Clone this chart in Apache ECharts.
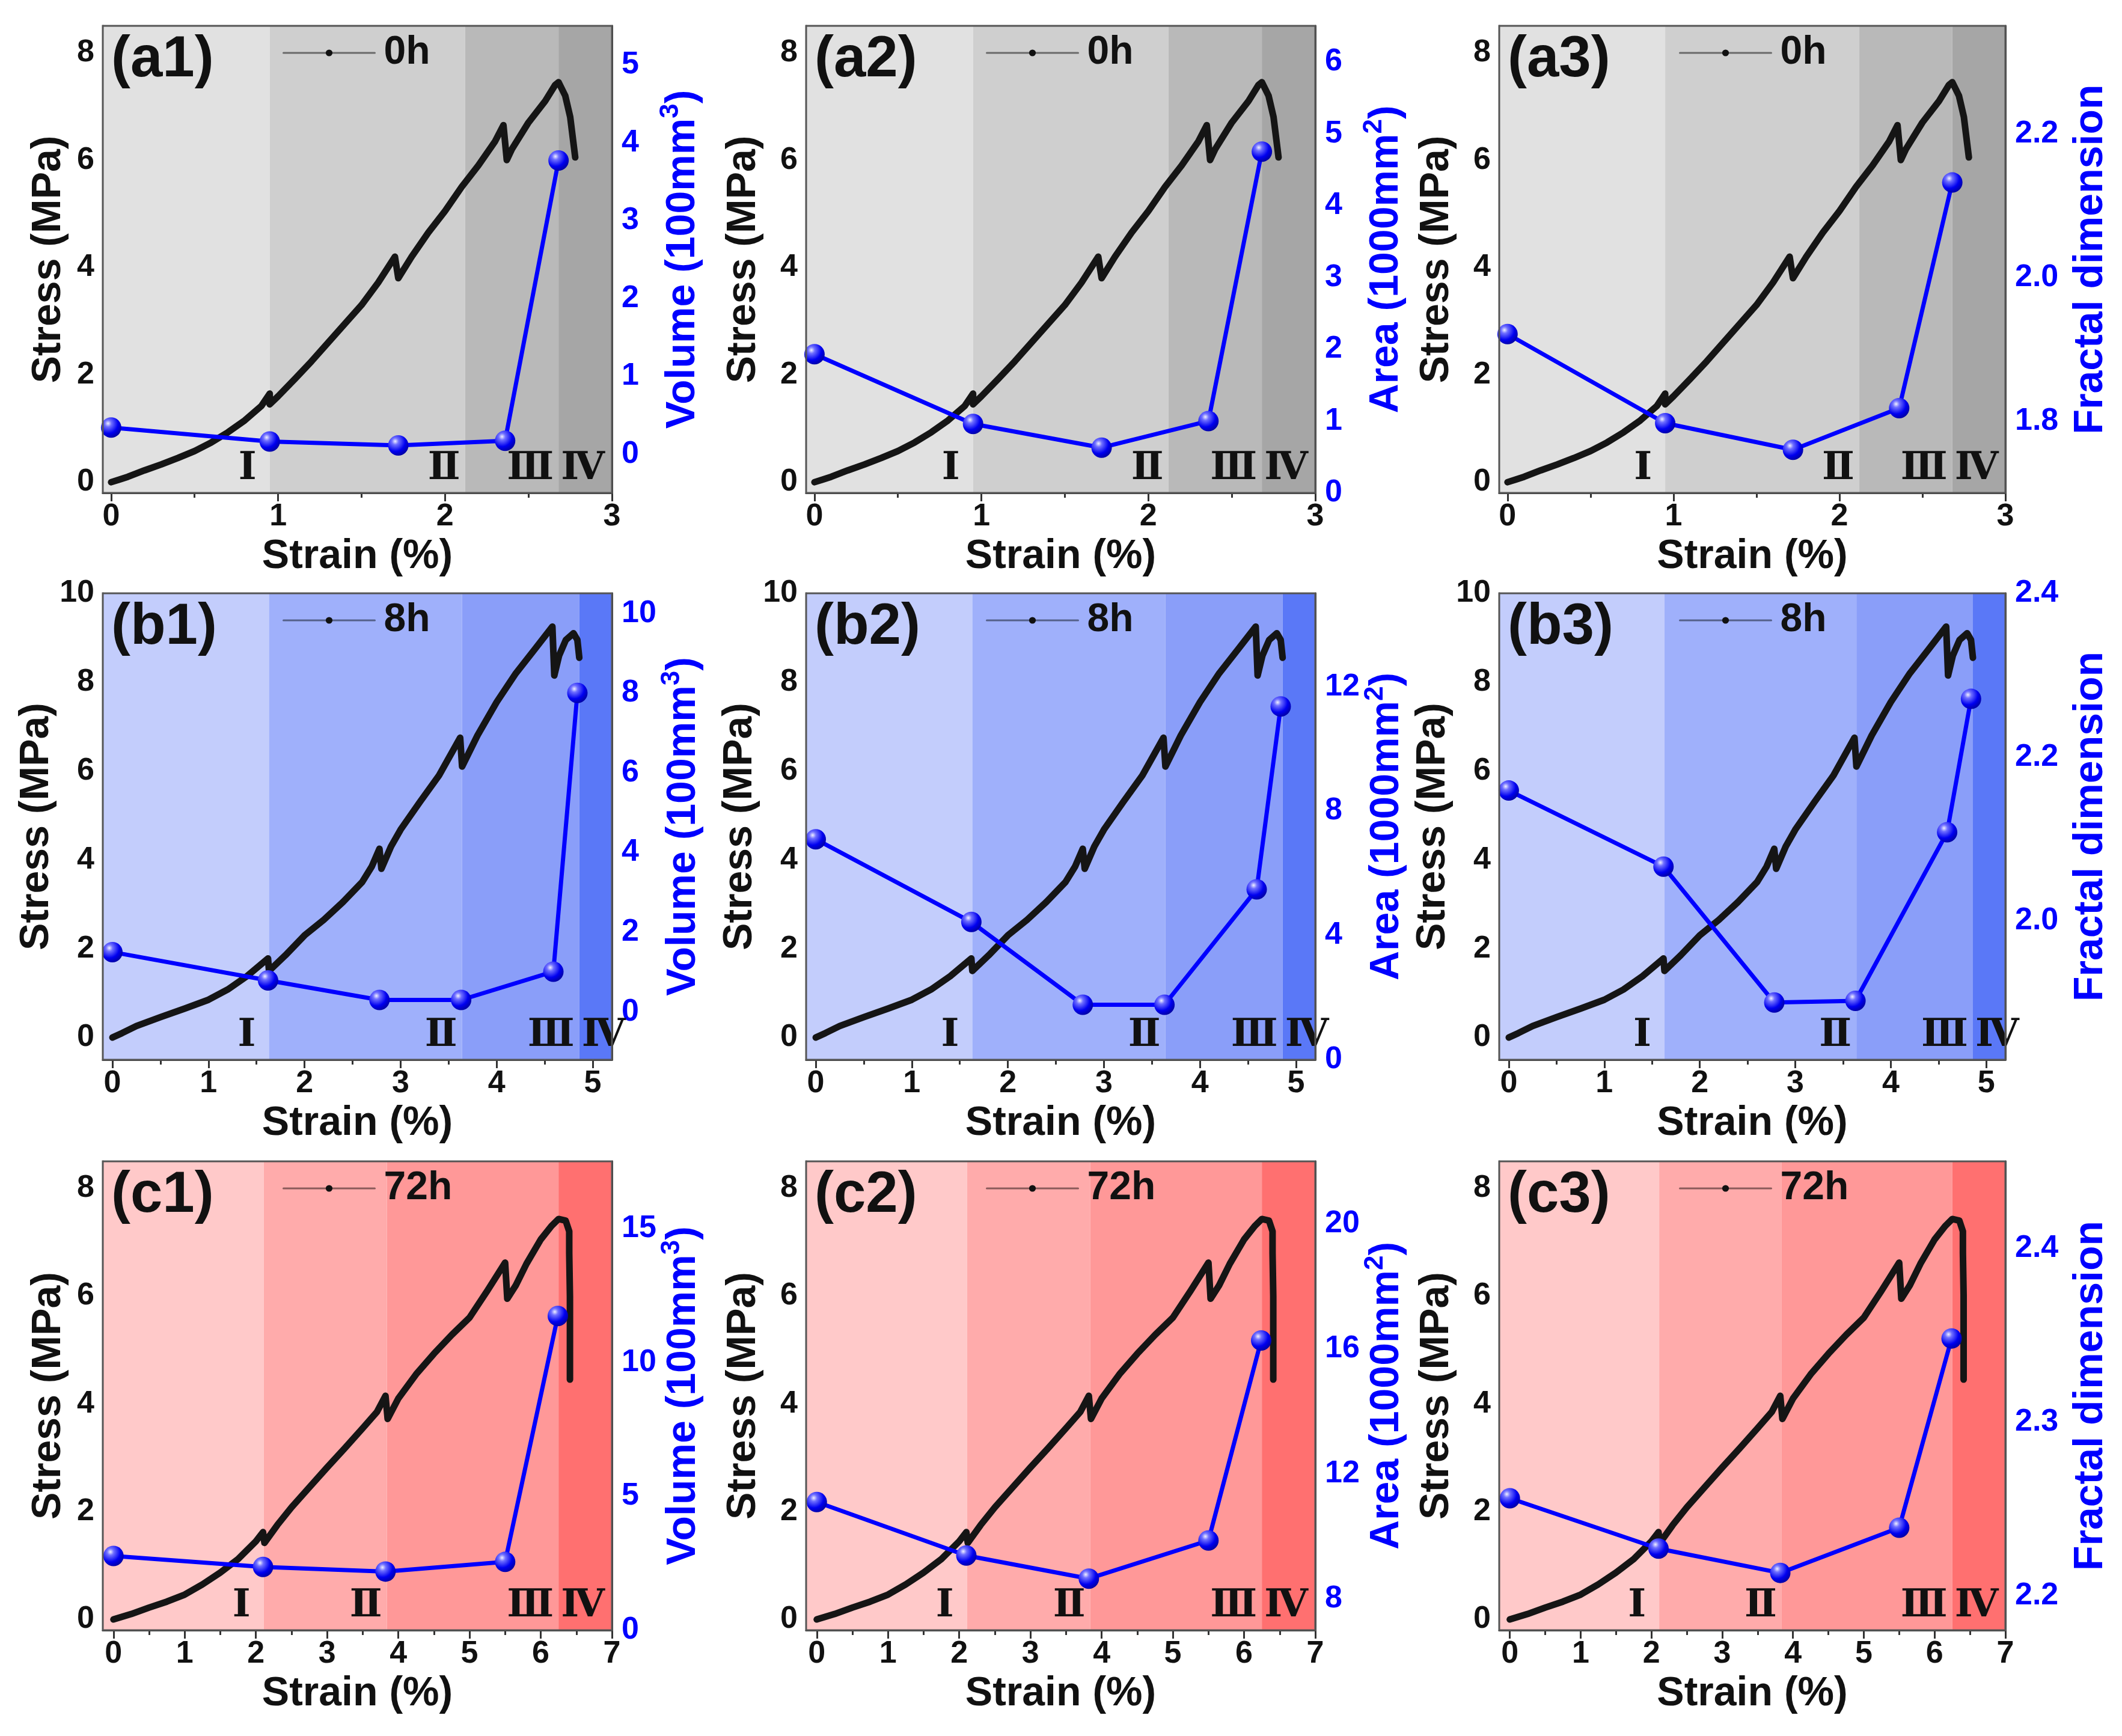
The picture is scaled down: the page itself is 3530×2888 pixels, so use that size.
<!DOCTYPE html>
<html>
<head>
<meta charset="utf-8">
<script src="https://cdn.jsdelivr.net/npm/echarts@6/dist/echarts.min.js"></script>
<style>
  html, body { margin: 0; padding: 0; background: #fff; }
  #main { width: 3530px; height: 2888px; }
</style>
</head>
<body>
<div id="main"></div>
<script>
// stress-strain curves
const strain0h = [0, 0.05, 0.1, 0.2, 0.3, 0.4, 0.5, 0.6, 0.7, 0.8, 0.9, 0.95, 0.95, 1.0, 1.1, 1.2, 1.3, 1.4, 1.5, 1.6, 1.7, 1.72, 1.8, 1.9, 2.0, 2.1, 2.2, 2.3, 2.35, 2.37, 2.4, 2.5, 2.6, 2.66, 2.68, 2.72, 2.75, 2.78];
const stress0h = [0, 0.05, 0.1, 0.22, 0.33, 0.45, 0.58, 0.74, 0.93, 1.15, 1.42, 1.65, 1.45, 1.6, 1.92, 2.25, 2.6, 2.95, 3.3, 3.72, 4.2, 3.8, 4.2, 4.65, 5.05, 5.5, 5.9, 6.35, 6.65, 6.0, 6.2, 6.7, 7.1, 7.4, 7.45, 7.2, 6.8, 6.05];

const strain8h = [0, 0.1, 0.25, 0.5, 0.75, 1.0, 1.2, 1.4, 1.62, 1.63, 1.8, 2.0, 2.2, 2.4, 2.6, 2.7, 2.78, 2.8, 2.9, 3.0, 3.2, 3.4, 3.62, 3.64, 3.8, 4.0, 4.2, 4.4, 4.58, 4.6, 4.65, 4.72, 4.8, 4.84, 4.86];
const stress8h = [0, 0.1, 0.26, 0.46, 0.65, 0.85, 1.08, 1.38, 1.78, 1.5, 1.85, 2.3, 2.65, 3.05, 3.5, 3.85, 4.25, 3.8, 4.3, 4.68, 5.3, 5.9, 6.75, 6.1, 6.8, 7.55, 8.2, 8.75, 9.25, 8.15, 8.6, 8.95, 9.1, 8.95, 8.55];

const strain72h = [0, 0.25, 0.5, 0.75, 1.0, 1.25, 1.5, 1.75, 2.0, 2.1, 2.12, 2.3, 2.5, 2.75, 3.0, 3.25, 3.5, 3.7, 3.82, 3.85, 4.0, 4.25, 4.5, 4.75, 5.0, 5.25, 5.5, 5.53, 5.65, 5.8, 6.0, 6.15, 6.25, 6.35, 6.4, 6.4, 6.41, 6.41, 6.41];
const stress72h = [0, 0.1, 0.22, 0.33, 0.46, 0.65, 0.87, 1.12, 1.45, 1.62, 1.42, 1.75, 2.08, 2.45, 2.82, 3.18, 3.55, 3.85, 4.15, 3.72, 4.1, 4.55, 4.93, 5.28, 5.6, 6.1, 6.62, 5.95, 6.2, 6.6, 7.05, 7.3, 7.43, 7.4, 7.2, 6.8, 6.0, 5.2, 4.45];

// crack measurements at the scan points
const scanStrain0h = [0, 0.95, 1.72, 2.36, 2.68];
const volume0h = [0.34, 0.16, 0.11, 0.17, 3.77];
const area0h = [1.93, 0.96, 0.63, 1.0, 4.75];
const fractal0h = [1.921, 1.797, 1.76, 1.818, 2.132];

const scanStrain8h = [0, 1.62, 2.78, 3.63, 4.59, 4.84];
const volume8h = [1.5, 0.79, 0.3, 0.3, 1.01, 8.0];
const area8h = [7.09, 4.43, 1.77, 1.77, 5.48, 11.36];
const fractal8h = [2.159, 2.066, 1.9, 1.902, 2.108, 2.271];

const scanStrain72h = [0, 2.1, 3.82, 5.5, 6.24];
const volume72h = [2.77, 2.36, 2.19, 2.55, 11.73];
const area72h = [11.1, 9.39, 8.65, 9.87, 16.27];
const fractal72h = [2.256, 2.227, 2.213, 2.239, 2.348];

// stage boundaries (strain %)
const stages0h = [0.95, 2.12, 2.68];
const stages8h = [1.63, 3.64, 4.86];
const stages72h = [2.11, 3.84, 6.25];
const stageNames = ['Ⅰ', 'Ⅱ', 'Ⅲ', 'Ⅳ'];

// tick labels
const strainTicks0h = [0, 1, 2, 3];
const strainTicks8h = [0, 1, 2, 3, 4, 5];
const strainTicks72h = [0, 1, 2, 3, 4, 5, 6, 7];
const stressTicks0h = [0, 2, 4, 6, 8];
const stressTicks8h = [0, 2, 4, 6, 8, 10];
const stressTicks72h = [0, 2, 4, 6, 8];
const volumeTicks0h = [0, 1, 2, 3, 4, 5];
const areaTicks0h = [0, 1, 2, 3, 4, 5, 6];
const fractalTicks0h = [1.8, 2.0, 2.2];
const volumeTicks8h = [0, 2, 4, 6, 8, 10];
const areaTicks8h = [0, 4, 8, 12];
const fractalTicks8h = [2.0, 2.2, 2.4];
const volumeTicks72h = [0, 5, 10, 15];
const areaTicks72h = [8, 12, 16, 20];
const fractalTicks72h = [2.2, 2.3, 2.4];

const panelTags = [['(a1)', '(a2)', '(a3)'], ['(b1)', '(b2)', '(b3)'], ['(c1)', '(c2)', '(c3)']];
// right axis titles, superscripts as rich text
const rightTitles = ['{t|Volume (100mm}{s|3}{t|)}', '{t|Area (1000mm}{s|2}{t|)}', '{t|Fractal dimension}'];

const rows = [
  {
    name: '0h', sx: strain0h, sy: stress0h, cx: scanStrain0h, right: [volume0h, area0h, fractal0h],
    stages: stages0h, xRange: [-0.05, 3], xTicks: strainTicks0h, yRange: [-0.2, 8.5], yTicks: stressTicks0h,
    rRanges: [[-0.5, 5.5], [0, 6.5], [1.7, 2.35]], rTicks: [volumeTicks0h, areaTicks0h, fractalTicks0h],
    colors: ['#e1e1e1', '#cfcfcf', '#b9b9b9', '#a6a6a6'], legendLine: '#6a6a6a'
  },
  {
    name: '8h', sx: strain8h, sy: stress8h, cx: scanStrain8h, right: [volume8h, area8h, fractal8h],
    stages: stages8h, xRange: [-0.1, 5.2], xTicks: strainTicks8h, yRange: [-0.5, 10], yTicks: stressTicks8h,
    rRanges: [[-1.2, 10.5], [0, 15], [1.83, 2.4]], rTicks: [volumeTicks8h, areaTicks8h, fractalTicks8h],
    colors: ['#c3cdfc', '#9fb0fb', '#8a9ef9', '#5a78f7'], legendLine: '#55608a'
  },
  {
    name: '72h', sx: strain72h, sy: stress72h, cx: scanStrain72h, right: [volume72h, area72h, fractal72h],
    stages: stages72h, xRange: [-0.15, 7], xTicks: strainTicks72h, yRange: [-0.2, 8.5], yTicks: stressTicks72h,
    rRanges: [[0, 17.5], [7, 22], [2.18, 2.45]], rTicks: [volumeTicks72h, areaTicks72h, fractalTicks72h],
    colors: ['#ffc9c9', '#ffabab', '#ff9898', '#ff7070'], legendLine: '#8a5a5a'
  }
];

// layout
const colLeft = [171, 1341, 2494];
const colWidth = [847, 847, 842];
const rowTop = [43, 987, 1932];
const rowHeight = [777, 776, 780];

const narrow = "'Liberation Sans Narrow', 'Arial Narrow', 'Liberation Sans', Arial, sans-serif";
const sans = "'Liberation Sans', Arial, sans-serif";
const blue = '#0000ff';
const ink = '#111';

function minorTicks(major, range) {
  const step = major[1] - major[0];
  const out = [];
  for (let v = major[0] - step / 2; v <= range[1] + 1e-9; v += step) {
    const r = Math.round(v * 1000) / 1000;
    if (r >= range[0] - 1e-9) out.push(r);
  }
  return out;
}

function pairs(xs, ys) {
  return xs.map((x, i) => [x, ys[i]]);
}

const sphere = {
  type: 'radial', x: 0.35, y: 0.3, r: 0.75,
  colorStops: [
    { offset: 0, color: '#f0f0ff' },
    { offset: 0.22, color: '#7070ff' },
    { offset: 0.65, color: '#0000f0' },
    { offset: 1, color: '#0000a0' }
  ]
};

const grids = [], xAxes = [], yAxes = [], series = [], legends = [], titles = [];

rows.forEach((row, r) => {
  for (let c = 0; c < 3; c++) {
    const gi = r * 3 + c;
    const left = colLeft[c], top = rowTop[r];
    grids.push({
      left: left, top: top, width: colWidth[c], height: rowHeight[r],
      show: true, backgroundColor: 'transparent', borderColor: '#555', borderWidth: 3, z: 20
    });

    // x axes: main + minor ticks
    xAxes.push({
      gridIndex: gi, type: 'value', position: 'bottom', min: row.xRange[0], max: row.xRange[1],
      axisLine: { show: true, onZero: false, lineStyle: { color: '#333', width: 3 } },
      axisTick: { show: true, inside: false, length: 14, customValues: row.xTicks, lineStyle: { color: '#333', width: 3 } },
      axisLabel: { customValues: row.xTicks, fontSize: 52, fontWeight: 'bold', fontFamily: narrow, color: ink, margin: 14 },
      splitLine: { show: false },
      name: 'Strain (%)', nameLocation: 'middle', nameGap: 72,
      nameTextStyle: { fontSize: 68, fontWeight: 'bold', fontFamily: sans, color: ink }
    });
    xAxes.push({
      gridIndex: gi, type: 'value', position: 'bottom', min: row.xRange[0], max: row.xRange[1],
      axisLine: { show: false, onZero: false },
      axisTick: { show: true, inside: false, length: 8, customValues: minorTicks(row.xTicks, row.xRange), lineStyle: { color: '#333', width: 3 } },
      axisLabel: { show: false }, splitLine: { show: false }
    });

    // left stress axis: main + minor
    yAxes.push({
      gridIndex: gi, type: 'value', position: 'left', min: row.yRange[0], max: row.yRange[1],
      axisLine: { show: true, onZero: false, lineStyle: { color: '#333', width: 3 } },
      axisTick: { show: true, inside: true, length: 14, customValues: row.yTicks, lineStyle: { color: '#333', width: 3 } },
      axisLabel: { customValues: row.yTicks, fontSize: 52, fontWeight: 'bold', fontFamily: narrow, color: ink, margin: 14 },
      splitLine: { show: false },
      name: 'Stress (MPa)', nameLocation: 'middle', nameGap: c === 0 ? 56 : 70,
      nameTextStyle: { fontSize: 68, fontWeight: 'bold', fontFamily: sans, color: ink }
    });
    yAxes.push({
      gridIndex: gi, type: 'value', position: 'left', min: row.yRange[0], max: row.yRange[1],
      axisLine: { show: false, onZero: false },
      axisTick: { show: true, inside: true, length: 8, customValues: minorTicks(row.yTicks, row.yRange), lineStyle: { color: '#333', width: 3 } },
      axisLabel: { show: false }, splitLine: { show: false }
    });

    // right crack axis: main + minor
    const rr = row.rRanges[c], rt = row.rTicks[c];
    const dec = c === 2 ? 1 : 0;
    yAxes.push({
      gridIndex: gi, type: 'value', position: 'right', min: rr[0], max: rr[1],
      axisLine: { show: true, onZero: false, lineStyle: { color: '#333', width: 3 } },
      axisTick: { show: true, inside: true, length: 14, customValues: rt, lineStyle: { color: '#333', width: 3 } },
      axisLabel: { customValues: rt, fontSize: 52, fontWeight: 'bold', fontFamily: narrow, color: blue, margin: 16,
        formatter: v => Number(v).toFixed(dec) },
      splitLine: { show: false },
      name: rightTitles[c], nameLocation: 'middle', nameGap: c === 2 ? 100 : 76,
      nameTextStyle: {
        color: blue,
        rich: {
          t: { fontSize: 68, fontWeight: 'bold', fontFamily: sans, color: blue, lineHeight: 84 },
          s: { fontSize: 44, fontWeight: 'bold', fontFamily: sans, color: blue, lineHeight: 44, verticalAlign: 'top' }
        }
      }
    });
    yAxes.push({
      gridIndex: gi, type: 'value', position: 'right', min: rr[0], max: rr[1],
      axisLine: { show: false, onZero: false },
      axisTick: { show: true, inside: true, length: 8, customValues: minorTicks(rt, rr), lineStyle: { color: '#333', width: 3 } },
      axisLabel: { show: false }, splitLine: { show: false }
    });

    // stage shading + roman numerals
    const edges = [row.xRange[0]].concat(row.stages, [row.xRange[1]]);
    const areas = stageNames.map((s, k) => [
      {
        name: s, xAxis: edges[k], itemStyle: { color: row.colors[k] },
        label: { position: k === 3 ? 'insideBottomLeft' : 'insideBottomRight', offset: [k === 0 ? -14 : (k === 3 ? -4 : 0), 0] }
      },
      { xAxis: edges[k + 1] }
    ]);

    series.push({
      type: 'line', name: row.name, xAxisIndex: 2 * gi, yAxisIndex: 4 * gi,
      data: pairs(row.sx, row.sy),
      symbol: 'circle', symbolSize: 10, showSymbol: false,
      lineStyle: { color: '#151515', width: 11, cap: 'round', join: 'round' },
      itemStyle: { color: '#111' },
      z: 3,
      markArea: {
        silent: true,
        label: { show: true, fontSize: 64, fontWeight: 'bold', fontFamily: "'DejaVu Serif', 'Liberation Serif', serif", color: ink, distance: 8 },
        data: areas
      }
    });
    series.push({
      type: 'line', name: 'scan', xAxisIndex: 2 * gi, yAxisIndex: 4 * gi + 2,
      data: pairs(row.cx, row.right[c]),
      symbol: 'circle', symbolSize: 34,
      lineStyle: { color: blue, width: 7 },
      itemStyle: { color: sphere },
      z: 4
    });

    legends.push({
      data: [row.name], left: left + 299, top: top + 12, padding: 0,
      itemWidth: 152, itemHeight: 14, selectedMode: false,
      lineStyle: { width: 3, color: row.legendLine },
      itemStyle: { color: '#111', borderWidth: 0 },
      textStyle: { fontSize: 66, fontWeight: 'bold', fontFamily: narrow, color: ink, padding: [0, 0, 0, 10] }
    });

    titles.push({
      text: panelTags[r][c], left: left + 14, top: top + 10, padding: 0,
      textStyle: { fontSize: 96, fontWeight: 'bold', fontFamily: narrow, color: ink }
    });
  }
});

const chart = echarts.init(document.getElementById('main'));
chart.setOption({
  animation: false,
  backgroundColor: '#fff',
  title: titles,
  legend: legends,
  grid: grids,
  xAxis: xAxes,
  yAxis: yAxes,
  series: series
});
</script>
</body>
</html>
